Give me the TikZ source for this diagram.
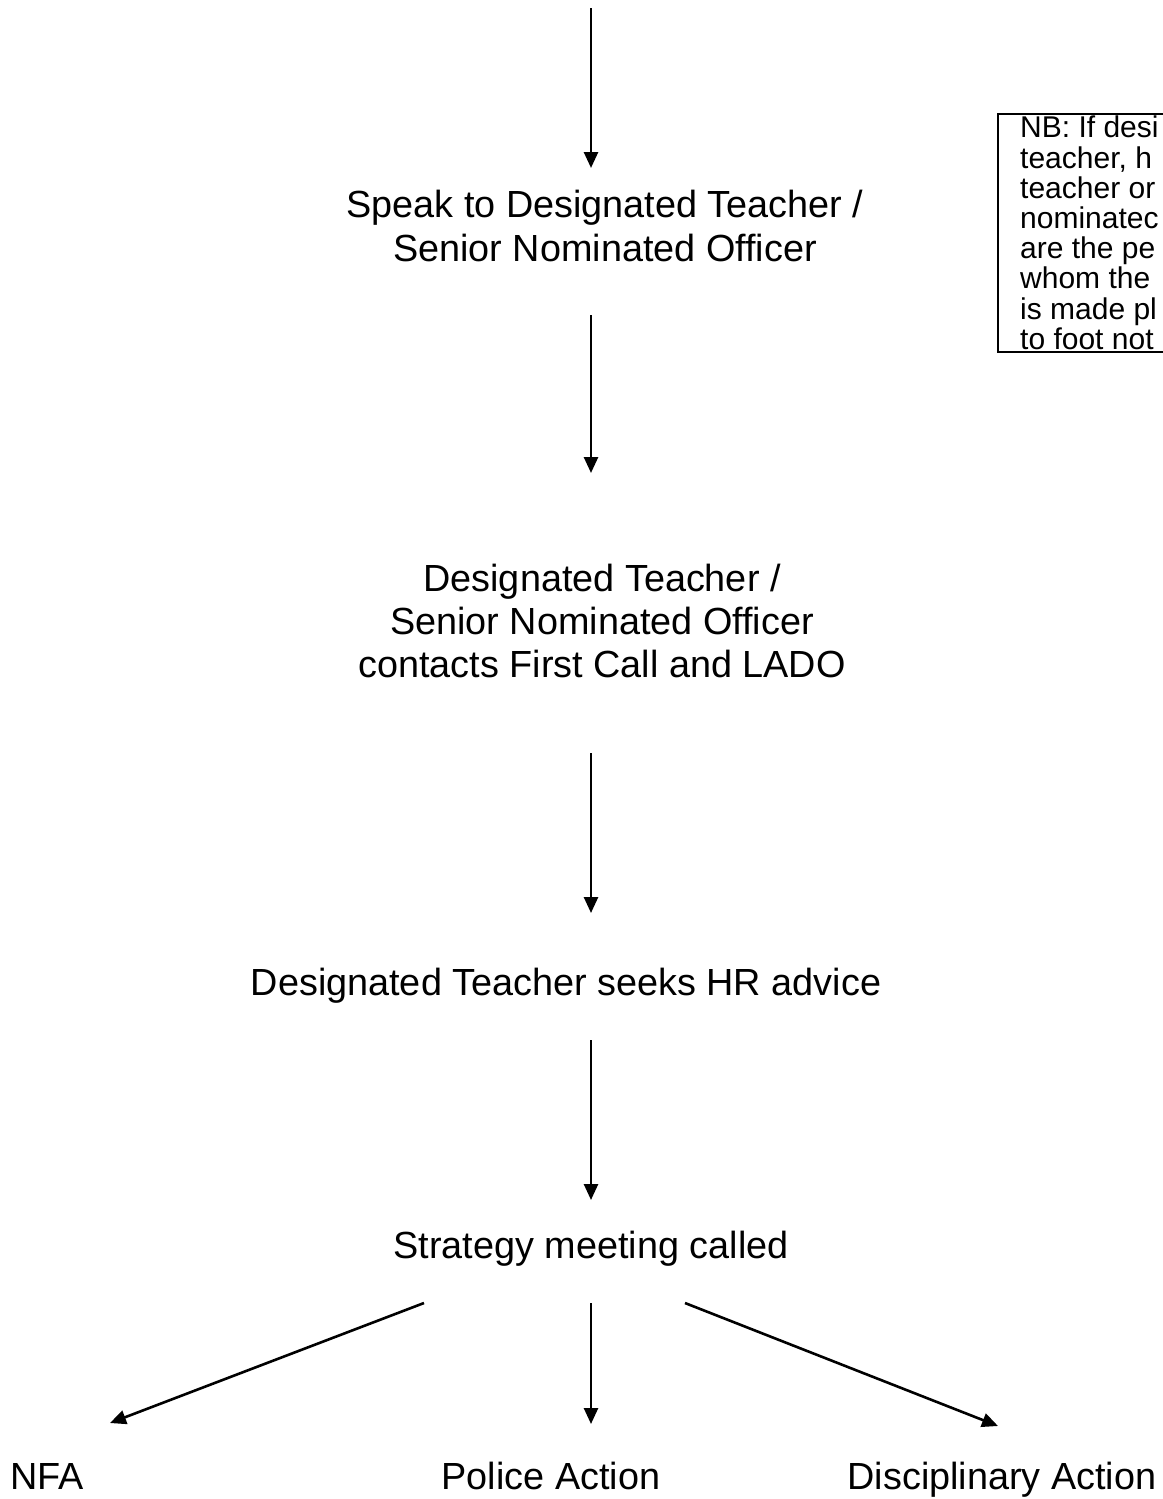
\documentclass[tikz,border=0pt]{standalone}
\usepackage{fontspec}
\setmainfont{Liberation Sans}
\usetikzlibrary{arrows.meta}
\begin{document}
\begin{tikzpicture}[x=1pt,y=-1pt,
  arr/.style={line width=2.6pt,-{Triangle[length=16pt,width=14pt]}},
  txt/.style={inner sep=0pt,align=center,font=\fontsize{37.8}{43.2}\selectfont},
  lbl/.style={inner sep=0pt,anchor=base,font=\fontsize{37.8}{43.2}\selectfont},
  note/.style={inner sep=0pt,align=left,anchor=north west,font=\fontsize{30}{30.2}\selectfont}]
\useasboundingbox[fill=white] (0,0) rectangle (1162,1499);
% text nodes
\node[txt] (speak) at (605,226) {Speak to Designated Teacher /\\Senior Nominated Officer};
\node[txt] (contacts) at (602,621) {Designated Teacher /\\Senior Nominated Officer\\contacts First Call and LADO};
\node[txt] (hr) at (566,986) {Designated Teacher seeks HR advice};
\node[txt] (strategy) at (591,1249) {Strategy meeting called};
\node[lbl,anchor=base west] (nfa) at (10,1489) {NFA};
\node[lbl] (police) at (551,1489) {Police Action};
\node[lbl] (disc) at (1002,1489) {Disciplinary Action};
% note box
\draw[line width=1.4pt] (1200,114) -- (998,114) -- (998,352) -- (1200,352);
\node[note] (nb) at (1020,116) {NB: If desi\\teacher, h\\teacher or\\nominatec\\are the pe\\whom the\\is made pl\\to foot not};
% arrow end points
\coordinate (s0) at (591,8);
\coordinate (s1) at (591,315);
\coordinate (s2) at (591,753);
\coordinate (s3) at (591,1040);
\coordinate (m0) at (591,1303);
\coordinate (l0) at (424,1303);
\coordinate (r0) at (685,1303);
\coordinate (e0) at (591,168);
\coordinate (e1) at (591,473);
\coordinate (e2) at (591,913);
\coordinate (e3) at (591,1200);
\coordinate (em) at (591,1424);
\coordinate (el) at (110,1423);
\coordinate (er) at (998,1426);
\draw[arr] (s0) -- (e0);
\draw[arr] (s1) -- (e1);
\draw[arr] (s2) -- (e2);
\draw[arr] (s3) -- (e3);
\draw[arr] (m0) -- (em);
\draw[arr] (l0) -- (el);
\draw[arr] (r0) -- (er);
\end{tikzpicture}
\end{document}
